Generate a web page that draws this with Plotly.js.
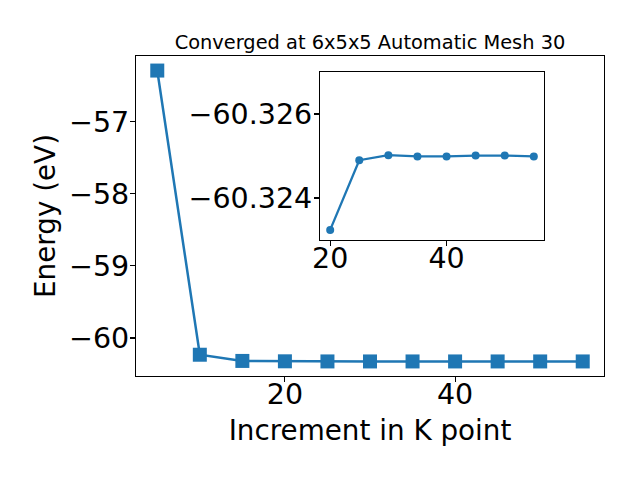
<!DOCTYPE html>
<html>
<head>
<meta charset="utf-8">
<script src="https://cdn.plot.ly/plotly-3.0.1.min.js"></script>
<style>html,body{margin:0;padding:0;background:#fff;}#chart{width:640px;height:480px;}</style>
</head>
<body>
<div id="chart"></div>
<script>
// Data
const kIncrement = [5, 10, 15, 20, 25, 30, 35, 40, 45, 50, 55];
const energy = [-56.29, -60.232, -60.318, -60.3232, -60.3249, -60.3250, -60.32499, -60.32499, -60.32501, -60.32501, -60.32499];
const insetK = [20, 25, 30, 35, 40, 45, 50, 55];
const insetEnergy = [-60.32324, -60.32490, -60.32502, -60.32499, -60.32499, -60.32501, -60.32501, -60.32499];
const titleText = "Converged at 6x5x5 Automatic Mesh 30";
const xLabel = "Increment in K point";
const yLabel = "Energy (eV)";

const blue = "#1f77b4";
const font = "DejaVu Sans, sans-serif";

const traces = [
  {
    x: kIncrement, y: energy, type: "scatter", mode: "lines+markers",
    line: {color: blue, width: 2.5},
    marker: {symbol: "square", size: 14, color: blue},
    xaxis: "x", yaxis: "y", showlegend: false, hoverinfo: "x+y"
  },
  {
    x: insetK, y: insetEnergy, type: "scatter", mode: "lines+markers",
    line: {color: blue, width: 2.3},
    marker: {symbol: "circle", size: 8, color: blue},
    xaxis: "x2", yaxis: "y2", showlegend: false, hoverinfo: "x+y"
  }
];

const axisCommon = {
  showgrid: false, zeroline: false, showline: true, mirror: true,
  linecolor: "#000", linewidth: 1.1, ticks: "outside", ticklen: 5,
  tickwidth: 1.1, tickcolor: "#000",
  tickfont: {family: font, size: 28.5, color: "#000"}
};

const layout = {
  width: 640, height: 480,
  margin: {l: 0, r: 0, t: 0, b: 0},
  paper_bgcolor: "#fff", plot_bgcolor: "#fff",
  font: {family: font, color: "#000"},
  title: {
    text: titleText, font: {family: font, size: 19.4, color: "#000"},
    x: 370/640, xanchor: "center", xref: "paper",
    y: 1 - 42/480, yanchor: "middle", yref: "container"
  },
  xaxis: Object.assign({}, axisCommon, {
    domain: [0.2125, 0.94375], range: [2.5, 57.5], dtick: 20, tick0: 0,
    anchor: "y", ticklabelstandoff: -12,
    title: {text: xLabel, font: {family: font, size: 27.8, color: "#000"}, standoff: 10}
  }),
  yaxis: Object.assign({}, axisCommon, {
    domain: [104/480, 424/480], range: [-60.527, -56.088], dtick: 1, tick0: 0,
    anchor: "x", ticklabelstandoff: -5,
    title: {text: yLabel, font: {family: font, size: 27.8, color: "#000"}, standoff: 5}
  }),
  xaxis2: Object.assign({}, axisCommon, {
    domain: [0.5, 0.85], range: [18.25, 56.75], dtick: 20, tick0: 0,
    anchor: "y2", ticklabelstandoff: -12
  }),
  yaxis2: Object.assign({}, axisCommon, {
    domain: [0.5, 0.85], range: [-60.323, -60.327], dtick: 0.002, tick0: -60.326,
    tickformat: ".3f", ticklabelstandoff: -4,
    anchor: "x2"
  }),
  shapes: [
    {type: "rect", xref: "x2 domain", yref: "y2 domain", x0: 0, x1: 1, y0: 0, y1: 1,
     fillcolor: "#fff", line: {width: 0}, layer: "below"}
  ]
};

Plotly.newPlot("chart", traces, layout, {displayModeBar: false, staticPlot: true});
</script>
</body>
</html>
